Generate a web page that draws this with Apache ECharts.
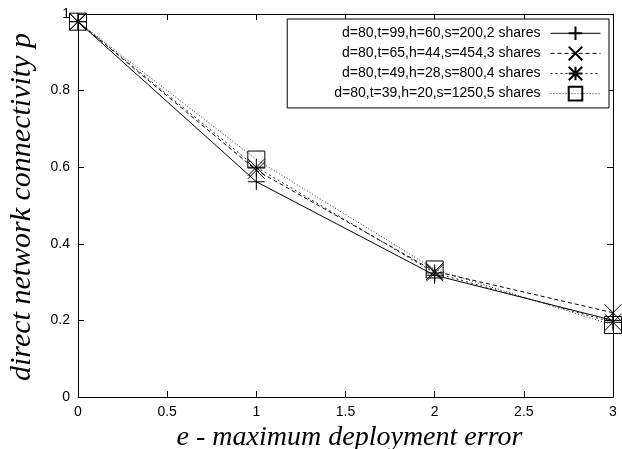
<!DOCTYPE html>
<html>
<head>
<meta charset="utf-8">
<script src="https://cdn.jsdelivr.net/npm/echarts@6/dist/echarts.min.js"></script>
<style>html,body{margin:0;padding:0;background:#fff}#c{width:622px;height:449px}</style>
</head>
<body>
<div id="c"></div>
<script>
var xValues = [0, 1, 2, 3];
var seriesNames = [
  'd=80,t=99,h=60,s=200,2 shares',
  'd=80,t=65,h=44,s=454,3 shares',
  'd=80,t=49,h=28,s=800,4 shares',
  'd=80,t=39,h=20,s=1250,5 shares'
];
var s1 = [0.98, 0.562, 0.318, 0.200];
var s2 = [0.98, 0.592, 0.328, 0.220];
var s3 = [0.98, 0.600, 0.324, 0.195];
var s4 = [0.98, 0.620, 0.333, 0.188];
var allValues = [s1, s2, s3, s4];

var symbols = [
  'path://M0,-1L0,1M-1,0L1,0',
  'path://M-1,-1L1,1M1,-1L-1,1',
  'path://M0,-1L0,1M-1,0L1,0M-1,-1L1,1M1,-1L-1,1',
  'path://M-1,-1L1,-1L1,1L-1,1Z'
];
var dashes = ['solid', [4, 3], [2, 3], [1, 2]];
var lineColors = ['#000', '#000', '#222', '#333'];

var chart = echarts.init(document.getElementById('c'), null, {renderer: 'canvas'});

var series = allValues.map(function (vals, i) {
  return {
    name: seriesNames[i],
    type: 'line',
    data: xValues.map(function (x, j) { return [x, vals[j]]; }),
    symbol: symbols[i],
    symbolSize: 17,
    showAllSymbol: true,
    color: '#000',
    itemStyle: {color: 'none', borderColor: '#000', borderWidth: 1},
    lineStyle: {color: lineColors[i], width: 1, type: dashes[i]},
    animation: false
  };
});

var axisCommon = {
  axisLine: {show: true, onZero: false, lineStyle: {color: '#000', width: 1}},
  axisTick: {show: true, inside: true, length: 6, lineStyle: {color: '#000', width: 1}},
  splitLine: {show: false}
};
var labelStyle = {color: '#000', fontFamily: 'Liberation Sans, Arial, sans-serif', fontSize: 14};

chart.setOption({
  backgroundColor: '#fff',
  animation: false,
  grid: {left: 78, right: 9, top: 14, bottom: 52, containLabel: false, outerBoundsMode: 'none'},
  legend: {
    data: seriesNames,
    orient: 'vertical',
    right: 13,
    top: 19,
    align: 'right',
    itemWidth: 50,
    itemHeight: 17,
    itemGap: 1.5,
    padding: [5, 8, 5, 47],
    borderColor: '#000',
    borderWidth: 1,
    backgroundColor: '#fff',
    lineStyle: {width: 1},
    textStyle: {color: '#000', fontFamily: 'Liberation Sans, Arial, sans-serif', fontSize: 14, lineHeight: 16, padding: [0, 5, 0, 0]}
  },
  xAxis: [
    Object.assign({
      type: 'value', min: 0, max: 3, interval: 0.5, position: 'bottom',
      axisLabel: Object.assign({margin: 8}, labelStyle),
      name: 'e - maximum deployment error',
      nameLocation: 'middle',
      nameGap: 23,
      nameTextStyle: {color: '#000', fontFamily: 'Liberation Serif, Times New Roman, serif', fontStyle: 'italic', fontSize: 28, padding: [0, 0, 0, 8]}
    }, axisCommon),
    Object.assign({
      type: 'value', min: 0, max: 3, interval: 0.5, position: 'top',
      axisLabel: {show: false}
    }, axisCommon)
  ],
  yAxis: [
    Object.assign({
      type: 'value', min: 0, max: 1, interval: 0.2, position: 'left',
      axisLabel: Object.assign({margin: 8}, labelStyle),
      name: 'direct network connectivity p',
      nameLocation: 'middle',
      nameGap: 41,
      nameTextStyle: {color: '#000', fontFamily: 'Liberation Serif, Times New Roman, serif', fontStyle: 'italic', fontSize: 30, padding: [0, 3, 0, 0]}
    }, axisCommon),
    Object.assign({
      type: 'value', min: 0, max: 1, interval: 0.2, position: 'right',
      axisLabel: {show: false}
    }, axisCommon)
  ],
  series: series
});
</script>
</body>
</html>
